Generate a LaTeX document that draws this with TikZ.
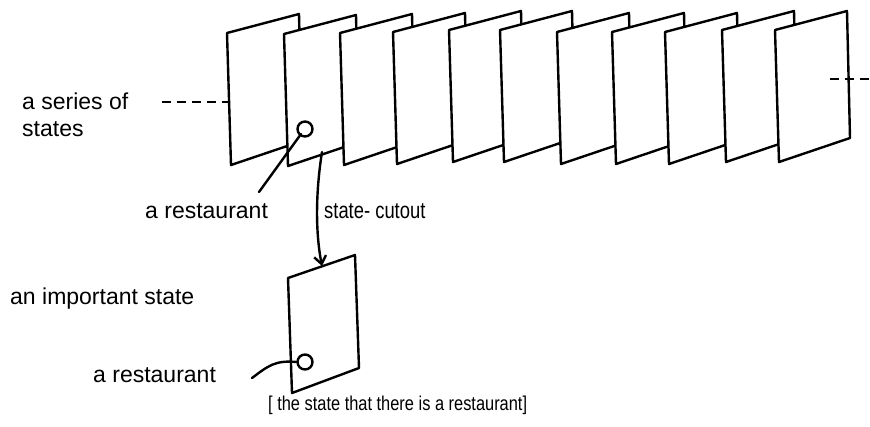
\documentclass[tikz,border=0pt]{standalone}
\usepackage{fontspec}
\usepackage{graphicx}
\setmainfont{Liberation Sans}
\usetikzlibrary{arrows.meta}
\begin{document}
\begin{tikzpicture}[x=1pt,y=-1pt,
  ink/.style={line width=2.4pt,line join=round,line cap=round},
  panel/.style={ink,fill=white},
  lbl/.style={font=\fontsize{23}{27}\selectfont,inner sep=0pt,anchor=west},
  dashline/.style={line width=1.8pt,dash pattern=on 9pt off 6pt}]
\useasboundingbox (0,0) rectangle (870,426);
% series of states
\foreach \x/\y [count=\i] in {227/33,284/34,340/33,393/32,449/30,500/30,557/32,612/32,665/32,722/30,775/30}{
  \draw[panel] (\x,\y) -- ++(72,-19) -- ++(3,127) -- ++(-71,24) -- cycle;
  \coordinate (p\i) at (\x,\y);
}
% labels
\node[lbl,align=left] (series) at (22,115) {a series of\\states};
\coordinate (sl) at (162,102);
\coordinate (sr) at (229,102);
\draw[dashline] (sl) -- (sr);
\coordinate (rl) at (830,79);
\coordinate (rr) at (870,79);
\draw[dashline] (rl) -- (rr);
% restaurant in series
\node[ink,draw,circle,minimum size=15pt,inner sep=0pt] (c1) at (305,129) {};
\node[lbl] (rest1) at (145,211) {a restaurant};
\coordinate (c1a) at (301,134);
\draw[ink] (c1a) -- (259,192);
% cutout arrow
\node[lbl] (cut) at (324,211) {\scalebox{0.8}[1]{state- cutout}};
% important state
\coordinate (q) at (288,278);
\draw[panel] (q) -- ++(67,-23) -- ++(4,113) -- ++(-67,25) -- cycle;
\coordinate (qtop) at (322,266);
\coordinate (cs) at (322,152);
\draw[ink,-{Straight Barb[length=8pt,width=12pt]}] (cs) .. controls (316,190) and (315,230) .. (qtop);
\node[ink,draw,circle,minimum size=15pt,inner sep=0pt] (c2) at (305,362) {};
\node[lbl] (imp) at (10,299) {an important state};
\node[lbl] (rest2) at (93,375) {a restaurant};
\draw[ink] (c2.west) .. controls (275,360) and (268,366) .. (252,378);
\node[lbl,font=\fontsize{20}{24}\selectfont] (brk) at (268,405) {\scalebox{0.82}[1]{[ the state that there is a restaurant]}};
\end{tikzpicture}
\end{document}
